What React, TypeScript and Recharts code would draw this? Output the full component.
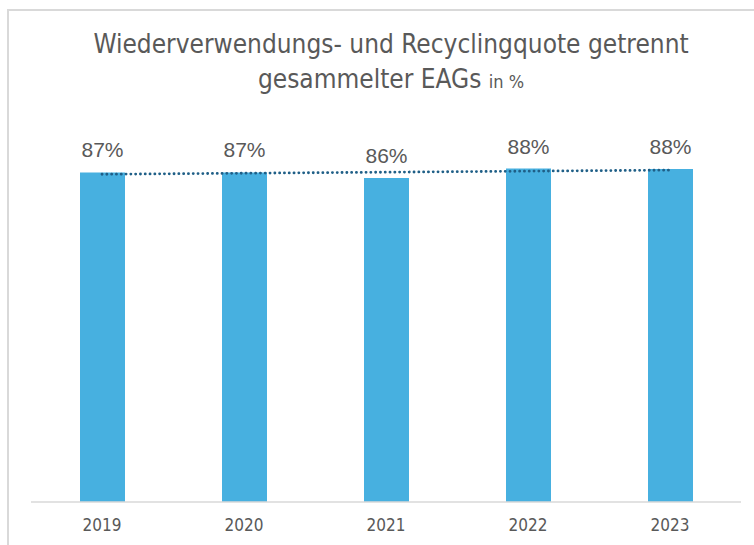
import { BarChart, Bar, XAxis, YAxis, LabelList, ReferenceLine } from "recharts"

const years = ["2019", "2020", "2021", "2022", "2023"]
const quote = [87.2, 87.2, 85.7, 88.2, 88.1]
const trendEnds = [86.7, 87.8]

const data = years.map((year, i) => ({ year, quote: quote[i] }))

const grey = "#595959"
const narrow = '"DejaVu Sans Condensed", "Liberation Sans Narrow", sans-serif'

export default function App() {
  return (
    <div style={{ position: "absolute", left: 0, top: 0, width: 754, height: 545, overflow: "hidden", background: "#fff" }}>
      <div
        style={{
          position: "absolute",
          left: 7,
          top: 9,
          width: 800,
          height: 600,
          borderLeft: "2px solid #d9d9d9",
          borderTop: "2px solid #d9d9d9",
        }}
      />
      <div
        style={{
          position: "absolute",
          left: 0,
          width: 782,
          top: 27,
          textAlign: "center",
          color: grey,
          fontFamily: narrow,
          fontSize: 26,
          lineHeight: "35px",
        }}
      >
        Wiederverwendungs- und Recyclingquote getrennt
        <br />
        gesammelter EAGs <span style={{ fontSize: 18 }}>in %</span>
      </div>
      <BarChart
        width={754}
        height={545}
        data={data}
        margin={{ top: 124, right: 13, bottom: 13, left: 31 }}
        style={{ position: "absolute", left: 0, top: 0 }}
      >
        <XAxis
          dataKey="year"
          height={30}
          axisLine={{ stroke: "#d9d9d9", strokeWidth: 1.5 }}
          tickLine={false}
          tickMargin={11}
          tick={{ fill: grey, fontSize: 17, fontFamily: narrow }}
        />
        <YAxis hide domain={[0, 100]} />
        <Bar dataKey="quote" fill="#47b0e0" barSize={45} isAnimationActive={false}>
          <LabelList
            dataKey="quote"
            position="top"
            offset={15}
            formatter={(v: number) => `${Math.round(v)}%`}
            style={{ fill: grey, fontSize: 21, fontFamily: '"Liberation Sans", Arial, sans-serif' }}
          />
        </Bar>
        <ReferenceLine
          segment={[
            { x: years[0], y: trendEnds[0] },
            { x: years[years.length - 1], y: trendEnds[1] },
          ]}
          stroke="#1f5f87"
          strokeWidth={2.8}
          strokeDasharray="0.1 4.7"
          strokeLinecap="round"
        />
      </BarChart>
    </div>
  )
}
